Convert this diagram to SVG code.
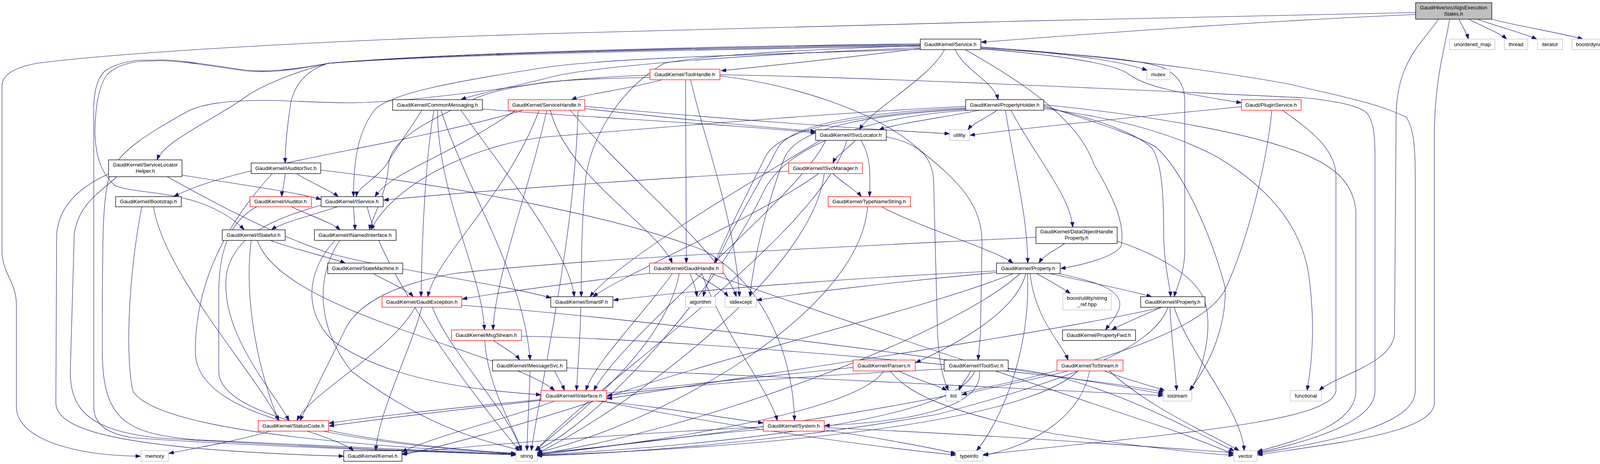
<svg xmlns="http://www.w3.org/2000/svg" width="4203" height="1187" viewBox="0 0 4203 1187">
<defs>
<marker id="arr" viewBox="0 0 13 9.4" refX="13" refY="4.7" markerWidth="13" markerHeight="9.4" markerUnits="userSpaceOnUse" orient="auto">
<path d="M0,0 L13,4.7 L0,9.4 z" fill="#191970" stroke="#191970"/>
</marker>
</defs>
<style>
.e{fill:none;stroke:#191970;stroke-width:1.1;marker-end:url(#arr)}
.n rect{fill:#ffffff;stroke:#000000;stroke-width:1.3}
.r rect{stroke:#ff0000}
.g rect{stroke:#bfbfbf}
.root rect{fill:#bfbfbf}
text{font-family:"Liberation Sans",Arial,Helvetica,sans-serif;font-size:13.33px;text-anchor:middle;fill:#000000}
</style>
<rect x="0" y="0" width="4203" height="1187" fill="#ffffff"/>
<g id="edges">
<path class="e" d="M3624,37 C3200,55 2750,90 2512,108"/>
<path class="e" d="M3624,32 C3000,42 1800,75 1400,86 C800,105 300,135 94,162 C40,172 5,190 5,220 L5,640 C5,700 42,720 42,780 L42,1040 C42,1120 180,1165 360,1167"/>
<path class="e" d="M3735,49 C3745,70 3755,85 3759,100"/>
<path class="e" d="M3760,49 C3800,70 3840,85 3857,100"/>
<path class="e" d="M3782,49 C3840,70 3900,85 3934,100"/>
<path class="e" d="M3818,49 C3900,70 4000,85 4052,100"/>
<path class="e" d="M3683,49 C3640,110 3574,160 3574,300 L3570,850 C3570,930 3420,960 3377,999"/>
<path class="e" d="M3711,49 C3700,120 3672,200 3672,350 L3672,1030 C3672,1110 3400,1135 3219,1164"/>
<path class="e" d="M2356,124 C2150,150 1950,170 1846,181"/>
<path class="e" d="M2356,122 C1900,140 1500,170 1400,200 C1300,225 1220,240 1180,255"/>
<path class="e" d="M2356,116 C1700,125 1100,140 840,162 C770,180 690,210 640,240 C560,300 420,360 402,409"/>
<path class="e" d="M2356,118 C1700,128 1100,142 840,162 C800,175 760,200 745,260 C735,320 730,380 730,417"/>
<path class="e" d="M2356,114 C1700,122 1100,140 840,162 C740,180 680,185 625,179 C500,160 430,150 393,154 C340,152 300,160 268,182 C250,200 240,230 240,280 L240,1040 C240,1090 280,1110 340,1120 C700,1145 1100,1155 1321,1164"/>
<path class="e" d="M2356,126 C1900,140 1550,150 1400,172 C1150,210 1000,240 960,280 C920,330 905,400 905,503"/>
<path class="e" d="M2356,112 C1700,120 1100,138 840,162 C740,182 680,187 625,181 C500,162 430,152 393,156 C340,155 300,165 275,190 C255,215 245,260 243,330 C243,390 255,440 295,475 C330,490 400,490 460,505 C540,520 600,560 625,588"/>
<path class="e" d="M2418,127 C2380,200 2230,280 2200,332"/>
<path class="e" d="M2445,127 C2470,180 2545,210 2555,255"/>
<path class="e" d="M2471,127 C2600,200 2760,300 2800,420 C2860,520 2880,580 2870,630 C2850,660 2760,680 2715,687"/>
<path class="e" d="M2511,124 C2700,135 2950,150 2990,180 C3020,200 3033,220 3033,260 L3033,640 C3033,700 3010,740 3006,759"/>
<path class="e" d="M2356,117 C2000,128 1780,145 1700,162 C1600,220 1520,330 1500,450 C1490,550 1488,650 1488,759"/>
<path class="e" d="M2511,125 C2700,140 2850,160 2890,190 C2930,220 3000,235 3178,263"/>
<path class="e" d="M2511,120 C2700,135 2850,150 2937,180"/>
<path class="e" d="M2511,122 C2700,130 3050,170 3300,215 C3400,240 3520,260 3600,300 C3620,330 3623,380 3623,450 L3623,1000 C3623,1090 3400,1130 3219,1160"/>
<path class="e" d="M1695,204 C1600,230 1500,240 1463,255"/>
<path class="e" d="M1755,204 C1755,400 1757,500 1757,673"/>
<path class="e" d="M1768,204 C1800,350 1880,550 1893,759"/>
<path class="e" d="M1843,194 C2050,220 2250,290 2350,380 C2450,460 2514,520 2514,620 L2510,850 C2508,890 2505,905 2504,921"/>
<path class="e" d="M1843,191 C2300,200 2900,230 3337,250 C3420,258 3480,270 3500,290 C3515,310 3520,340 3520,400 L3520,1000 C3520,1080 3350,1130 3219,1158"/>
<path class="e" d="M1664,192 C1450,200 1270,220 1200,260 C1120,300 1000,350 995,420 C990,500 950,560 946,588"/>
<path class="e" d="M1664,198 C1500,202 1450,205 1400,210 C1200,240 1000,263 893,263 C800,263 720,255 661,257 C580,258 520,265 480,285 C420,320 300,380 280,450 C262,520 262,600 262,900 C262,1080 330,1110 500,1125 C900,1145 1150,1155 1321,1163"/>
<path class="e" d="M1080,282 C1050,330 1000,400 990,420 C960,460 915,480 912,503"/>
<path class="e" d="M1235,279 C1500,300 1900,320 2088,340"/>
<path class="e" d="M1120,282 C1120,500 1235,700 1240,844"/>
<path class="e" d="M1129,282 C1200,500 1340,700 1357,921"/>
<path class="e" d="M1111,282 C1090,400 1080,600 1078,759"/>
<path class="e" d="M1180,282 C1300,450 1460,650 1470,759"/>
<path class="e" d="M1497,278 C1700,300 1950,325 2088,336"/>
<path class="e" d="M1497,272 C1800,300 2200,330 2431,342"/>
<path class="e" d="M1409,282 C1450,450 1680,580 1721,673"/>
<path class="e" d="M1400,282 C1350,500 1270,700 1262,844"/>
<path class="e" d="M1340,282 C1000,380 600,420 445,503"/>
<path class="e" d="M1380,282 C1300,500 1120,650 1095,759"/>
<path class="e" d="M1320,282 C1150,400 1000,440 960,503"/>
<path class="e" d="M1480,282 C1470,600 1400,900 1360,1153"/>
<path class="e" d="M1460,282 C1600,450 1850,650 1885,759"/>
<path class="e" d="M2507,282 C2420,300 2300,315 2250,332"/>
<path class="e" d="M2552,282 C2530,300 2490,315 2478,332"/>
<path class="e" d="M2574,282 C2600,450 2630,550 2631,673"/>
<path class="e" d="M2588,282 C2650,400 2740,500 2746,581"/>
<path class="e" d="M2672,274 C2750,290 2900,330 2950,380 C2975,420 2979,500 2979,600 C2980,680 2995,730 2997,759"/>
<path class="e" d="M2672,270 C2760,300 2900,340 2960,377 C3030,440 3100,600 3136,733 C3140,800 3120,900 3045,999"/>
<path class="e" d="M2672,278 C2850,300 3000,340 3113,400 C3250,480 3330,580 3350,700 C3364,800 3364,900 3346,999"/>
<path class="e" d="M2672,268 C2900,290 3150,330 3300,380 C3420,420 3465,470 3471,540 L3471,1000 C3471,1080 3350,1120 3219,1155"/>
<path class="e" d="M2472,276 C2250,285 2030,310 1990,380 C1940,480 1830,650 1800,759"/>
<path class="e" d="M2472,280 C2250,292 2050,320 2010,400 C1970,500 1930,650 1920,759"/>
<path class="e" d="M2472,272 C2100,290 1650,330 1400,350 C1200,370 1000,480 950,588"/>
<path class="e" d="M2480,282 C2200,300 2000,380 1950,500 C1800,800 1500,1100 1370,1153"/>
<path class="e" d="M2472,278 C2250,290 2000,320 1960,400 C1900,520 1850,620 1830,673"/>
<path class="e" d="M3178,273 C2900,300 2600,330 2483,346"/>
<path class="e" d="M3256,282 C3245,400 3200,600 3140,733 C3050,950 2000,1100 1375,1160"/>
<path class="e" d="M3283,282 C3350,330 3420,380 3420,450 L3420,1000 C3410,1080 3000,1110 2517,1163"/>
<path class="e" d="M2190,359 C2170,380 2140,400 2132,417"/>
<path class="e" d="M2204,359 C2230,400 2228,450 2226,503"/>
<path class="e" d="M2100,359 C2000,420 1600,650 1510,759"/>
<path class="e" d="M2114,359 C2050,500 1600,850 1520,999"/>
<path class="e" d="M2168,359 C2100,600 1500,1000 1372,1153"/>
<path class="e" d="M2269,350 C2340,365 2385,390 2390,460 L2400,850 C2405,950 2420,980 2428,999"/>
<path class="e" d="M466,448 C600,470 750,490 822,510"/>
<path class="e" d="M428,452 C550,520 700,600 850,650 C1000,690 1250,720 1411,762"/>
<path class="e" d="M299,452 C260,490 200,520 190,600 L180,950 C180,1050 230,1100 400,1120 C800,1145 1100,1155 1321,1162"/>
<path class="e" d="M278,445 C200,480 150,530 145,600 L143,1030 C143,1100 300,1150 880,1167"/>
<path class="e" d="M759,444 C800,470 850,490 866,503"/>
<path class="e" d="M730,444 C728,470 722,490 721,503"/>
<path class="e" d="M821,435 C1200,480 1600,560 1800,640 C1950,720 2030,900 2034,1076"/>
<path class="e" d="M697,444 C600,550 500,700 500,900 C500,1050 800,1130 1321,1160"/>
<path class="e" d="M2019,438 C1700,455 1200,490 982,512"/>
<path class="e" d="M2132,444 C2160,470 2195,490 2205,503"/>
<path class="e" d="M2096,444 C1950,550 1600,700 1518,759"/>
<path class="e" d="M2110,444 C2080,700 1600,1050 1374,1160"/>
<path class="e" d="M393,529 C420,700 650,950 714,1076"/>
<path class="e" d="M363,529 C330,700 320,900 340,1000 C400,1100 900,1140 1321,1161"/>
<path class="e" d="M746,529 C790,550 850,570 871,588"/>
<path class="e" d="M657,529 C600,560 560,620 560,750 L560,950 C560,1080 1000,1140 1321,1160"/>
<path class="e" d="M905,529 C906,550 908,570 909,588"/>
<path class="e" d="M864,529 C800,550 720,570 695,588"/>
<path class="e" d="M822,525 C700,560 600,600 580,700 C560,850 700,1000 740,1076"/>
<path class="e" d="M940,529 C980,700 1200,1000 1330,1153"/>
<path class="e" d="M692,615 C760,640 850,660 884,673"/>
<path class="e" d="M643,615 C620,800 680,1000 714,1076"/>
<path class="e" d="M659,615 C720,800 1300,900 1420,999"/>
<path class="e" d="M857,615 C780,700 780,800 850,870 C1000,980 1250,1000 1385,1010"/>
<path class="e" d="M870,615 C800,720 820,850 900,950 C1100,1100 1250,1130 1335,1153"/>
<path class="e" d="M956,700 C990,720 1040,740 1058,759"/>
<path class="e" d="M2257,529 C2350,580 2550,640 2593,673"/>
<path class="e" d="M2221,529 C2200,800 1700,1080 1375,1158"/>
<path class="e" d="M2726,623 C2700,640 2670,655 2660,673"/>
<path class="e" d="M2652,607 C2200,630 1500,660 1160,700 C1000,730 910,780 880,850 C830,950 790,1030 768,1076"/>
<path class="e" d="M2860,617 C2960,650 3050,700 3080,760 C3110,830 3080,950 3046,999"/>
<path class="e" d="M1663,699 C1500,720 1300,745 1183,765"/>
<path class="e" d="M1721,700 C1650,800 1520,930 1500,999"/>
<path class="e" d="M1739,700 C1700,900 1450,1080 1370,1153"/>
<path class="e" d="M1766,700 C1775,720 1782,740 1784,759"/>
<path class="e" d="M1780,700 C1810,720 1850,740 1864,759"/>
<path class="e" d="M1797,700 C1850,850 1970,1000 1990,1076"/>
<path class="e" d="M1820,700 C2100,800 2700,1000 3000,1100 C3080,1130 3130,1150 3158,1162"/>
<path class="e" d="M2551,693 C2200,710 1800,740 1570,768"/>
<path class="e" d="M2551,697 C2300,720 2050,750 1937,768"/>
<path class="e" d="M2593,700 C2400,780 1900,900 1600,1000 C1300,1100 1100,1150 1029,1163"/>
<path class="e" d="M2611,700 C2450,850 1800,1100 1375,1162"/>
<path class="e" d="M2626,700 C2600,800 2450,880 2344,928"/>
<path class="e" d="M2630,700 C2640,900 2560,1080 2500,1153"/>
<path class="e" d="M2637,700 C2650,820 2720,880 2734,921"/>
<path class="e" d="M2654,700 C2690,720 2725,740 2740,751"/>
<path class="e" d="M2688,700 C2780,720 2900,745 2948,759"/>
<path class="e" d="M2708,699 C2800,720 2880,740 2865,790 C2855,815 2840,830 2830,844"/>
<path class="e" d="M1063,786 C1000,900 800,1000 760,1076"/>
<path class="e" d="M1080,786 C1050,900 970,1050 962,1153"/>
<path class="e" d="M1107,786 C1150,900 1300,1050 1335,1153"/>
<path class="e" d="M1182,781 C1600,810 2500,920 2978,1008"/>
<path class="e" d="M1487,786 C1485,880 1478,950 1476,999"/>
<path class="e" d="M1263,871 C1290,890 1320,905 1330,921"/>
<path class="e" d="M1241,871 C1250,1000 1320,1100 1335,1153"/>
<path class="e" d="M1335,860 C1800,870 2700,950 2980,1003"/>
<path class="e" d="M1420,949 C1430,970 1440,985 1445,999"/>
<path class="e" d="M1357,949 C1355,1020 1350,1100 1349,1153"/>
<path class="e" d="M1451,941 C1900,960 2600,990 2978,1012"/>
<path class="e" d="M1385,1022 C1200,1040 950,1065 842,1083"/>
<path class="e" d="M1420,1026 C1300,1070 1100,1120 1029,1156"/>
<path class="e" d="M1525,1026 C1700,1040 1850,1070 1954,1082"/>
<path class="e" d="M1540,1026 C1800,1080 2200,1140 2447,1164"/>
<path class="e" d="M2184,940 C1800,980 1200,1040 842,1090"/>
<path class="e" d="M2262,949 C2200,1050 1700,1130 1375,1163"/>
<path class="e" d="M2279,949 C2320,1000 2400,1050 2700,1110 C2900,1140 3050,1158 3158,1165"/>
<path class="e" d="M2301,949 C2340,970 2400,985 2424,999"/>
<path class="e" d="M2417,944 C2100,960 1800,980 1554,1012"/>
<path class="e" d="M2485,949 C2475,970 2460,985 2455,999"/>
<path class="e" d="M2507,949 C2520,1050 2300,1080 2111,1089"/>
<path class="e" d="M2495,949 C2450,1080 1800,1140 1375,1164"/>
<path class="e" d="M2581,942 C2800,960 3050,1100 3160,1154"/>
<path class="e" d="M2827,949 C2880,970 2940,985 2982,999"/>
<path class="e" d="M2840,949 C2950,1050 3120,1120 3172,1153"/>
<path class="e" d="M2735,949 C2650,970 2520,995 2462,1010"/>
<path class="e" d="M2789,949 C2770,1060 2650,1140 2517,1165"/>
<path class="e" d="M2760,949 C2600,1100 1800,1150 1375,1165"/>
<path class="e" d="M2973,786 C2920,810 2870,830 2846,844"/>
<path class="e" d="M2995,786 C3000,880 3010,950 3012,999"/>
<path class="e" d="M3006,786 C3040,900 3180,1050 3185,1153"/>
<path class="e" d="M2990,786 C2950,900 2700,980 2400,1060 C2000,1130 1600,1160 1375,1166"/>
<path class="e" d="M2975,786 C2700,850 2000,950 1554,1020"/>
<path class="e" d="M692,1103 C600,1130 480,1150 432,1160"/>
<path class="e" d="M786,1103 C840,1120 890,1140 905,1153"/>
<path class="e" d="M1954,1092 C1600,1110 1200,1140 1030,1160"/>
<path class="e" d="M1954,1098 C1700,1120 1500,1150 1376,1163"/>
<path class="e" d="M2110,1100 C2250,1120 2380,1145 2447,1160"/>
<path class="e" d="M2110,1094 C2500,1110 2900,1140 3158,1158"/>
</g>
<g id="nodes">
<g id="n-root" class="n root"><rect x="3624" y="7" width="195" height="42"/><text x="3721" y="24">GaudiHive/src/AlgsExecution</text><text x="3721" y="40">States.h</text></g>
<g id="n-service" class="n"><rect x="2356" y="100" width="155" height="27"/><text x="2433" y="118">GaudiKernel/Service.h</text></g>
<g id="n-unordered_map" class="n g"><rect x="3711" y="100" width="116" height="27"/><text x="3769" y="118">unordered_map</text></g>
<g id="n-thread" class="n g"><rect x="3851" y="100" width="60" height="27"/><text x="3881" y="118">thread</text></g>
<g id="n-iterator" class="n g"><rect x="3936" y="100" width="64" height="27"/><text x="3968" y="118">iterator</text></g>
<g id="n-dynbitset" class="n g"><rect x="4024" y="100" width="172" height="27"/><text x="4110" y="118">boost/dynamic_bitset.hpp</text></g>
<g id="n-toolhandle" class="n r"><rect x="1664" y="177" width="179" height="27"/><text x="1753" y="195">GaudiKernel/ToolHandle.h</text></g>
<g id="n-mutex" class="n g"><rect x="2936" y="177" width="59" height="27"/><text x="2965" y="195">mutex</text></g>
<g id="n-commonmessaging" class="n"><rect x="1005" y="255" width="230" height="27"/><text x="1120" y="273">GaudiKernel/CommonMessaging.h</text></g>
<g id="n-servicehandle" class="n r"><rect x="1301" y="255" width="196" height="27"/><text x="1399" y="273">GaudiKernel/ServiceHandle.h</text></g>
<g id="n-propertyholder" class="n"><rect x="2472" y="255" width="200" height="27"/><text x="2572" y="273">GaudiKernel/PropertyHolder.h</text></g>
<g id="n-pluginservice" class="n r"><rect x="3178" y="255" width="153" height="27"/><text x="3254" y="273">Gaudi/PluginService.h</text></g>
<g id="n-isvclocator" class="n"><rect x="2088" y="332" width="181" height="27"/><text x="2178" y="350">GaudiKernel/ISvcLocator.h</text></g>
<g id="n-utility" class="n g"><rect x="2431" y="332" width="51" height="27"/><text x="2456" y="350">utility</text></g>
<g id="n-servicelocatorhelper" class="n"><rect x="278" y="409" width="188" height="43"/><text x="372" y="426">GaudiKernel/ServiceLocator</text><text x="372" y="442">Helper.h</text></g>
<g id="n-iauditorsvc" class="n"><rect x="643" y="417" width="178" height="27"/><text x="732" y="435">GaudiKernel/IAuditorSvc.h</text></g>
<g id="n-isvcmanager" class="n r"><rect x="2019" y="417" width="189" height="27"/><text x="2113" y="435">GaudiKernel/ISvcManager.h</text></g>
<g id="n-bootstrap" class="n"><rect x="296" y="503" width="168" height="26"/><text x="380" y="520">GaudiKernel/Bootstrap.h</text></g>
<g id="n-iauditor" class="n r"><rect x="640" y="503" width="157" height="26"/><text x="718" y="520">GaudiKernel/IAuditor.h</text></g>
<g id="n-iservice" class="n"><rect x="822" y="503" width="159" height="26"/><text x="901" y="520">GaudiKernel/IService.h</text></g>
<g id="n-typenamestring" class="n r"><rect x="2120" y="503" width="211" height="26"/><text x="2225" y="520">GaudiKernel/TypeNameString.h</text></g>
<g id="n-istateful" class="n"><rect x="569" y="588" width="161" height="27"/><text x="649" y="606">GaudiKernel/IStateful.h</text></g>
<g id="n-inamedinterface" class="n"><rect x="805" y="588" width="209" height="27"/><text x="909" y="606">GaudiKernel/INamedInterface.h</text></g>
<g id="n-dataobjecthandleproperty" class="n"><rect x="2652" y="581" width="208" height="42"/><text x="2756" y="597">GaudiKernel/DataObjectHandle</text><text x="2756" y="613">Property.h</text></g>
<g id="n-statemachine" class="n"><rect x="839" y="673" width="192" height="27"/><text x="935" y="691">GaudiKernel/StateMachine.h</text></g>
<g id="n-gaudihandle" class="n r"><rect x="1663" y="673" width="188" height="27"/><text x="1757" y="691">GaudiKernel/GaudiHandle.h</text></g>
<g id="n-property" class="n"><rect x="2551" y="673" width="163" height="27"/><text x="2632" y="691">GaudiKernel/Property.h</text></g>
<g id="n-gaudiexception" class="n r"><rect x="978" y="759" width="204" height="27"/><text x="1080" y="777">GaudiKernel/GaudiException.h</text></g>
<g id="n-smartif" class="n"><rect x="1410" y="759" width="159" height="27"/><text x="1489" y="777">GaudiKernel/SmartIF.h</text></g>
<g id="n-algorithm" class="n g"><rect x="1755" y="759" width="77" height="27"/><text x="1793" y="777">algorithm</text></g>
<g id="n-stdexcept" class="n g"><rect x="1856" y="759" width="80" height="27"/><text x="1896" y="777">stdexcept</text></g>
<g id="n-stringref" class="n g"><rect x="2721" y="751" width="124" height="42"/><text x="2783" y="767">boost/utility/string</text><text x="2783" y="783">_ref.hpp</text></g>
<g id="n-iproperty" class="n"><rect x="2920" y="759" width="165" height="27"/><text x="3002" y="777">GaudiKernel/IProperty.h</text></g>
<g id="n-msgstream" class="n r"><rect x="1156" y="844" width="179" height="27"/><text x="1245" y="862">GaudiKernel/MsgStream.h</text></g>
<g id="n-propertyfwd" class="n"><rect x="2720" y="844" width="187" height="27"/><text x="2813" y="862">GaudiKernel/PropertyFwd.h</text></g>
<g id="n-imessagesvc" class="n"><rect x="1261" y="921" width="190" height="28"/><text x="1356" y="940">GaudiKernel/IMessageSvc.h</text></g>
<g id="n-parsers" class="n r"><rect x="2184" y="921" width="159" height="28"/><text x="2263" y="940">GaudiKernel/Parsers.h</text></g>
<g id="n-itoolsvc" class="n"><rect x="2417" y="921" width="164" height="28"/><text x="2499" y="940">GaudiKernel/IToolSvc.h</text></g>
<g id="n-tostream" class="n r"><rect x="2706" y="921" width="169" height="28"/><text x="2790" y="940">GaudiKernel/ToStream.h</text></g>
<g id="n-iinterface" class="n r"><rect x="1385" y="999" width="168" height="27"/><text x="1469" y="1017">GaudiKernel/IInterface.h</text></g>
<g id="n-list" class="n g"><rect x="2422" y="999" width="39" height="27"/><text x="2441" y="1017">list</text></g>
<g id="n-iostream" class="n g"><rect x="2978" y="999" width="73" height="27"/><text x="3014" y="1017">iostream</text></g>
<g id="n-functional" class="n g"><rect x="3303" y="999" width="80" height="27"/><text x="3343" y="1017">functional</text></g>
<g id="n-statuscode" class="n r"><rect x="661" y="1076" width="180" height="27"/><text x="751" y="1094">GaudiKernel/StatusCode.h</text></g>
<g id="n-system" class="n r"><rect x="1954" y="1076" width="156" height="27"/><text x="2032" y="1094">GaudiKernel/System.h</text></g>
<g id="n-memory" class="n g"><rect x="361" y="1153" width="70" height="27"/><text x="396" y="1171">memory</text></g>
<g id="n-kernel" class="n"><rect x="880" y="1153" width="149" height="27"/><text x="954" y="1171">GaudiKernel/Kernel.h</text></g>
<g id="n-string" class="n g"><rect x="1321" y="1153" width="54" height="27"/><text x="1348" y="1171">string</text></g>
<g id="n-typeinfo" class="n g"><rect x="2447" y="1153" width="69" height="27"/><text x="2481" y="1171">typeinfo</text></g>
<g id="n-vector" class="n g"><rect x="3158" y="1153" width="60" height="27"/><text x="3188" y="1171">vector</text></g>
</g>
</svg>
